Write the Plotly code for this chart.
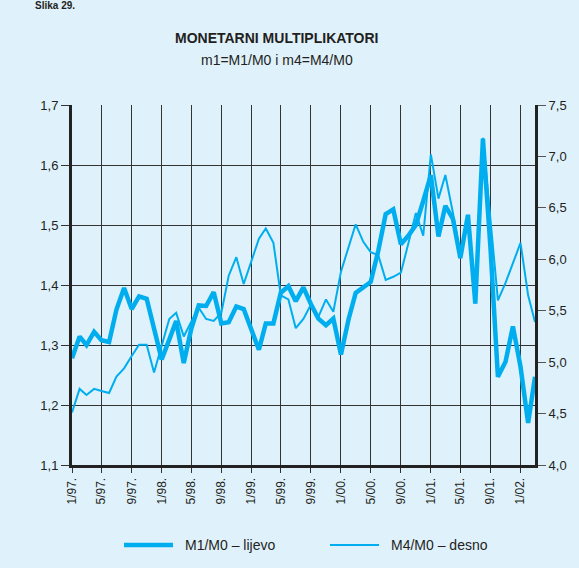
import pandas as pd
import plotly.graph_objects as go

# monthly data, 1/97. - 3/02.
months = pd.date_range("1997-01-01", periods=63, freq="MS")

m1_m0 = [1.278, 1.314, 1.300, 1.322, 1.308, 1.305, 1.359, 1.395, 1.360, 1.381,
         1.377, 1.326, 1.276, 1.309, 1.340, 1.270, 1.326, 1.366, 1.365, 1.388,
         1.336, 1.338, 1.364, 1.360, 1.326, 1.292, 1.336, 1.336, 1.387, 1.398,
         1.373, 1.396, 1.368, 1.344, 1.333, 1.344, 1.284, 1.343, 1.387, 1.397,
         1.405, 1.457, 1.518, 1.526, 1.468, 1.482, 1.500, 1.540, 1.583, 1.481,
         1.532, 1.510, 1.445, 1.517, 1.369, 1.644, 1.460, 1.247, 1.272, 1.331,
         1.264, 1.170, 1.247]

m4_m0 = [4.51, 4.74, 4.68, 4.74, 4.72, 4.70, 4.86, 4.94, 5.06, 5.17,
         5.17, 4.90, 5.16, 5.42, 5.48, 5.25, 5.39, 5.53, 5.42, 5.40,
         5.48, 5.84, 6.02, 5.76, 5.98, 6.20, 6.30, 6.16, 5.65, 5.61,
         5.33, 5.42, 5.56, 5.44, 5.61, 5.49, 5.88, 6.11, 6.34, 6.17,
         6.07, 6.04, 5.80, 5.83, 5.87, 6.15, 6.45, 6.23, 7.02, 6.59,
         6.82, 6.45, 6.05, 6.43, 5.57, 7.18, 6.40, 5.60, 5.77, 5.96,
         6.16, 5.65, 5.39]

series_names = ["M1/M0 – lijevo", "M4/M0 – desno"]

bg = "#DFF1FB"
blue = "#00AEEF"
ink = "#231F20"
font = "Liberation Sans, Arial, sans-serif"

fig = go.Figure()
fig.add_trace(go.Scatter(x=months, y=m1_m0, mode="lines", name=series_names[0],
                         line=dict(color=blue, width=4.5)))
fig.add_trace(go.Scatter(x=months, y=m4_m0, mode="lines", name=series_names[1],
                         line=dict(color=blue, width=2), yaxis="y2"))

fig.update_layout(
    width=579, height=568,
    margin=dict(l=72, r=35, t=105, b=103),
    paper_bgcolor=bg, plot_bgcolor=bg,
    separators=",.",
    showlegend=False,
    font=dict(family=font, size=12, color=ink),
    xaxis=dict(
        type="date", range=[months[0], months[-1]],
        tick0="1997-01-01", dtick="M4", tickformat="%-m/%y.",
        tickangle=-90, ticks="outside", ticklen=5, tickcolor="#333",
        showgrid=True, gridcolor="#333", gridwidth=1.3,
        showline=True, linecolor="#222", linewidth=3,
        tickfont=dict(size=12, color=ink),
    ),
    yaxis=dict(
        range=[1.1, 1.7], dtick=0.1, tickformat=".1f",
        ticks="outside", ticklen=8, tickcolor="#333",
        showgrid=True, gridcolor="#333", gridwidth=1.3,
        showline=True, linecolor="#222", linewidth=3,
        zeroline=False, tickfont=dict(size=13, color=ink),
    ),
    yaxis2=dict(
        range=[4.0, 7.5], dtick=0.5, tickformat=".1f",
        overlaying="y", side="right",
        ticks="outside", ticklen=8, tickcolor="#555",
        showgrid=False, zeroline=False,
        showline=True, linecolor="#222", linewidth=3,
        tickfont=dict(size=13, color=ink),
    ),
)

# title and subtitle
fig.add_annotation(text="<b>MONETARNI MULTIPLIKATORI</b>", xref="paper", yref="paper",
                   x=0.443, y=1.186, yanchor="middle", showarrow=False,
                   font=dict(size=14, color=ink))
fig.add_annotation(text="m1=M1/M0 i m4=M4/M0", xref="paper", yref="paper",
                   x=0.443, y=1.125, yanchor="middle", showarrow=False,
                   font=dict(size=14, color=ink))
fig.add_annotation(text="<b>Slika 29.</b>", xref="paper", yref="paper",
                   x=-0.085, y=1.277, xanchor="left", yanchor="middle", showarrow=False,
                   font=dict(size=10, color=ink))

# legend drawn below the plot
leg_y = -0.222
for x0, x1, w, name in [(0.1123, 0.2182, 4.5, series_names[0]),
                        (0.5572, 0.6631, 2, series_names[1])]:
    fig.add_shape(type="line", xref="paper", yref="paper", x0=x0, x1=x1,
                  y0=leg_y, y1=leg_y, line=dict(color=blue, width=w))
    fig.add_annotation(text=name, xref="paper", yref="paper", x=x1 + 0.021, y=leg_y,
                       xanchor="left", yanchor="middle", showarrow=False,
                       font=dict(size=14, color=ink))

# page body margin off so the chart fills the window
fig.write_html("out.html", config={"displayModeBar": False},
               post_script=f"document.body.style.margin='0';"
                           f"document.body.style.background='{bg}';")
